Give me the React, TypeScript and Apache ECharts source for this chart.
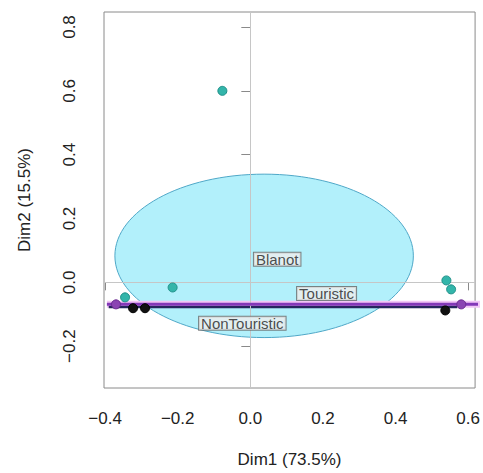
import React, { useEffect, useRef } from 'react';
import * as echarts from 'echarts';

const xTicks = [-0.4, -0.2, 0, 0.2, 0.4, 0.6];
const yTicks = [-0.2, 0, 0.2, 0.4, 0.6, 0.8];
const xTitle = 'Dim1 (73.5%)';
const yTitle = 'Dim2 (15.5%)';

const blanotPoints = [
  [-0.077, 0.6],
  [-0.214, -0.016],
  [-0.345, -0.047],
  [0.54, 0.006],
  [0.553, -0.022],
];
const nonTouristicPoints = [
  [-0.323, -0.081],
  [-0.29, -0.081],
  [0.537, -0.088],
];
const touristicPoints = [
  [-0.37, -0.069],
  [0.581, -0.069],
];
// cx, cy, rx, ry
const blanotEllipse = [0.038, 0.083, 0.411, 0.256];
const touristicEllipseLine = [
  [-0.395, -0.069],
  [0.64, -0.069],
];
const nonTouristicEllipseLine = [
  [-0.39, -0.077],
  [0.57, -0.077],
];
const labelNames = ['Blanot', 'Touristic', 'NonTouristic'];
const labelX = [0.074, 0.21, -0.022];
const labelY = [0.072, -0.035, -0.128];

const FONT = "'Liberation Sans', Arial, Helvetica, sans-serif";
const fmt = (v: number) => (v < 0 ? '\u2212' : '') + Math.abs(v).toFixed(1);

export default function App() {
  const ref = useRef<HTMLDivElement>(null);
  useEffect(() => {
    if (!ref.current) return;
    const chart = echarts.init(ref.current, null, { renderer: 'svg' });
    const option: any = {
      animation: false,
      backgroundColor: '#ffffff',
      grid: {
        left: 104,
        right: 6,
        top: 12,
        bottom: 84,
        show: true,
        borderColor: '#8a8a8a',
        borderWidth: 1,
        backgroundColor: 'transparent',
      },
      xAxis: {
        type: 'value',
        min: -0.403,
        max: 0.619,
        name: xTitle,
        nameLocation: 'middle',
        nameGap: 63,
        nameTextStyle: { fontFamily: FONT, fontSize: 17, color: '#222' },
        axisLine: { show: false },
        splitLine: { show: false },
        axisTick: {
          show: true,
          length: 8,
          customValues: xTicks,
          lineStyle: { color: '#8a8a8a' },
        },
        axisLabel: {
          customValues: xTicks,
          formatter: fmt,
          margin: 22,
          fontFamily: FONT,
          fontSize: 17,
          color: '#222',
        },
      },
      yAxis: {
        type: 'value',
        min: -0.331,
        max: 0.847,
        name: yTitle,
        nameLocation: 'middle',
        nameGap: 71,
        nameTextStyle: { fontFamily: FONT, fontSize: 17, color: '#222' },
        axisLine: { show: false },
        splitLine: { show: false },
        axisTick: {
          show: true,
          length: 9,
          customValues: yTicks,
          lineStyle: { color: '#8a8a8a' },
        },
        axisLabel: {
          customValues: yTicks,
          formatter: fmt,
          rotate: 90,
          margin: 26,
          fontFamily: FONT,
          fontSize: 17,
          color: '#222',
        },
      },
      series: [
        {
          type: 'custom',
          z: 1,
          silent: true,
          data: [blanotEllipse],
          encode: { x: 0, y: 1 },
          renderItem: (params: any, api: any) => {
            const c = api.coord([api.value(0), api.value(1)]);
            const s = api.size([api.value(2), api.value(3)]);
            return {
              type: 'ellipse',
              shape: { cx: c[0], cy: c[1], rx: s[0], ry: s[1] },
              style: { fill: '#b2f0fb', stroke: '#4ea8c8', lineWidth: 1 },
            };
          },
        },
        {
          type: 'scatter',
          z: 2,
          silent: true,
          data: [],
          markLine: {
            silent: true,
            symbol: 'none',
            label: { show: false },
            lineStyle: { color: '#c6c6c6', width: 1, type: 'solid' },
            data: [{ xAxis: 0 }, { yAxis: 0 }],
          },
        },
        {
          type: 'line',
          z: 3,
          silent: true,
          data: touristicEllipseLine,
          symbol: 'none',
          lineStyle: { color: '#f2c6f6', width: 7 },
        },
        {
          type: 'line',
          z: 4,
          silent: true,
          data: nonTouristicEllipseLine,
          symbol: 'none',
          lineStyle: { color: '#26265e', width: 2.5 },
        },
        {
          type: 'line',
          z: 5,
          silent: true,
          data: touristicEllipseLine,
          symbol: 'none',
          lineStyle: { color: '#8338b8', width: 3 },
        },
        {
          type: 'scatter',
          z: 6,
          data: blanotPoints,
          symbolSize: 9,
          itemStyle: { color: '#33b5aa', borderColor: '#1e8f88', borderWidth: 1, opacity: 1 },
        },
        {
          type: 'scatter',
          z: 6,
          data: nonTouristicPoints,
          symbolSize: 9,
          itemStyle: { color: '#111111', borderColor: '#000', borderWidth: 1, opacity: 1 },
        },
        {
          type: 'scatter',
          z: 6,
          data: touristicPoints,
          symbolSize: 9,
          itemStyle: { color: '#8b44b3', borderColor: '#6a2a90', borderWidth: 1, opacity: 1 },
        },
        {
          type: 'scatter',
          z: 7,
          silent: true,
          symbolSize: 0,
          data: labelNames.map((n, i) => ({ name: n, value: [labelX[i], labelY[i]] })),
          label: {
            show: true,
            position: 'inside',
            formatter: (p: any) => p.name,
            fontFamily: FONT,
            fontSize: 15,
            color: '#222',
            backgroundColor: '#ededed',
            borderColor: '#666',
            borderWidth: 1,
            padding: [0, 2, 0, 2],
            lineHeight: 13,
          },
        },
      ],
    };
    chart.setOption(option);
    return () => chart.dispose();
  }, []);
  return (
    <div
      ref={ref}
      style={{ position: 'fixed', left: 0, top: 0, width: 483, height: 473 }}
    />
  );
}
